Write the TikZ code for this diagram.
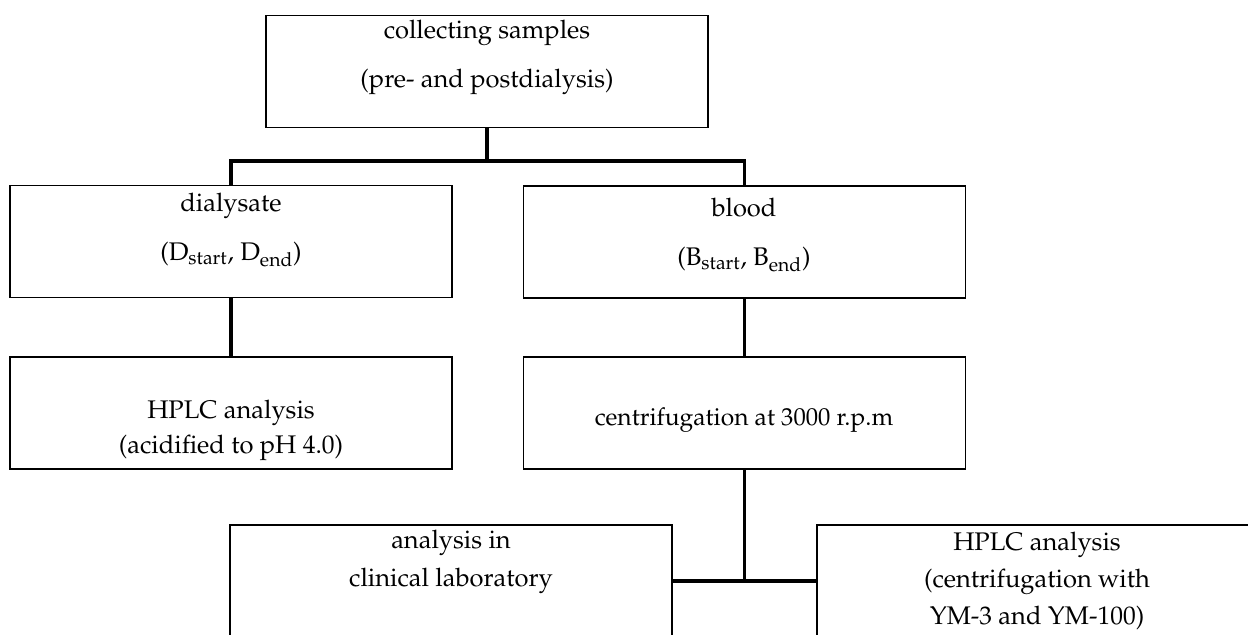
\documentclass[tikz,border=0pt]{standalone}
\usepackage[T1]{fontenc}
\usepackage{mathpazo}
\usepackage{tikz}
\usetikzlibrary{positioning}
\tikzstyle{stage}=[rectangle, draw, line width=0.9pt, minimum width=8.84cm, minimum height=2.24cm, inner sep=0pt]
\tikzstyle{stagetext}=[align=center, inner sep=0pt]
\tikzstyle{link}=[line width=2pt]
\newcommand{\stage}{\node[stage]}
\newcommand{\stagetext}{\node[stagetext]}

\begin{document}
\begin{tikzpicture}[x=0.02cm, y=-0.02cm]
                    \useasboundingbox (0,0) rectangle (1248,635);
                    \clip (0,0) rectangle (1248,635);
                    \stage (collect) at (487,71.5) {};
                    \stage (dialysate) at (231,241.5) {};
                    \stage (blood) at (744.5,242) {};
                    \stage (hplcA) at (231,413) {};
                    \stage (centri) at (744.5,413) {};
                    \stage (clinic) at (451,581) {};
                    \stage (hplcB) at (1038,581) {};
                    \stagetext (collectT) at (487,57) [font=\fontsize{14.5}{28}\selectfont] {collecting samples\\(pre- and postdialysis)};
                    \stagetext (dialysateT) at (231,230) [font=\fontsize{14.5}{28}\selectfont] {dialysate\\(D\textsubscript{start}, D\textsubscript{end})};
                    \stagetext (bloodT) at (744,235) [font=\fontsize{14.5}{28}\selectfont] {blood\\(B\textsubscript{start}, B\textsubscript{end})};
                    \stagetext (hplcAT) at (231,430) [font=\fontsize{14.5}{20}\selectfont] {HPLC analysis\\(acidified to pH 4.0)};
                    \stagetext (centriT) at (744,420) [font=\fontsize{14}{20}\selectfont] {centrifugation at 3000 r.p.m};
                    \stagetext (clinicT) at (451,562) [font=\fontsize{14.5}{22}\selectfont] {analysis in\\clinical laboratory};
                    \stagetext (hplcBT) at (1037,581) [font=\fontsize{14.5}{21}\selectfont] {HPLC analysis\\(centrifugation with\\YM-3 and YM-100)};
                    \coordinate (split1) at (487,161);
                    \coordinate (split2) at (744.5,581);
                    \draw[link] (collect.south) -- (split1);
                    \draw[link] (dialysate.north) |- (split1) -| (blood.north);
                    \draw[link] (dialysate.south) -- (hplcA.north);
                    \draw[link] (blood.south) -- (centri.north);
                    \draw[link] (centri.south) -- (split2);
                    \draw[link] (clinic.east) -- (split2) -- (hplcB.west);
                \end{tikzpicture}
\end{document}
